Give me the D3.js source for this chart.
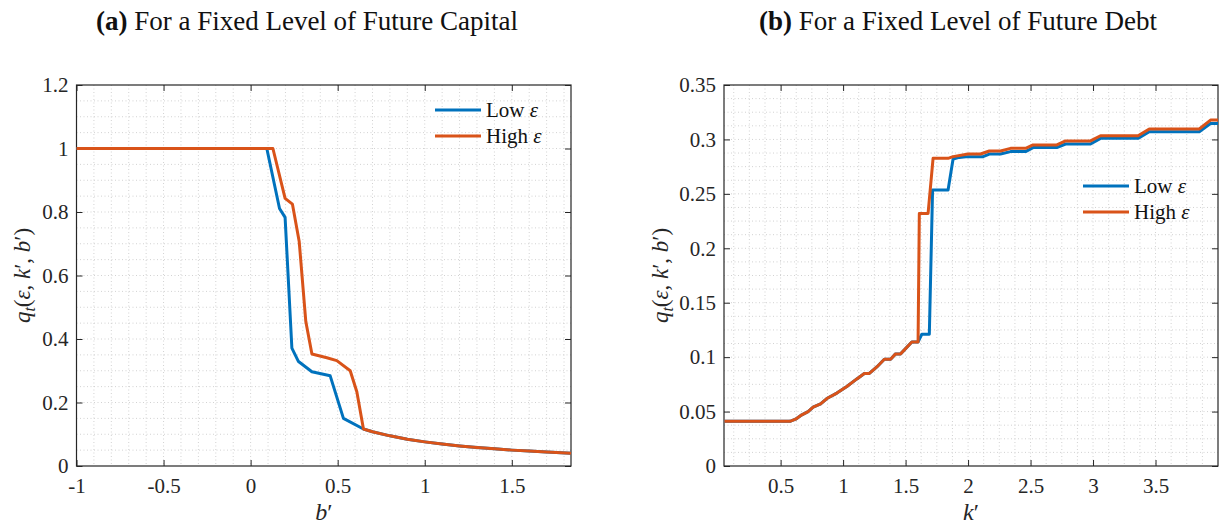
<!DOCTYPE html>
<html>
<head>
<meta charset="utf-8">
<script src="https://cdn.jsdelivr.net/npm/d3@7"></script>
<style>
  body { margin: 0; background: #fff; }
  svg { display: block; }
  svg text { font-family: 'Liberation Serif', 'DejaVu Serif', serif; }
</style>
</head>
<body>
<script>
// panel (a): price schedule over future debt b'
var bLow  = [-1, 0.093, 0.166, 0.198, 0.237, 0.275, 0.352, 0.457, 0.533, 0.648, 0.7, 0.8, 0.9, 1.0, 1.1, 1.2, 1.3, 1.4, 1.5, 1.6, 1.7, 1.84];
var qLowA = [1, 1, 0.811, 0.783, 0.371, 0.329, 0.297, 0.284, 0.150, 0.1165, 0.108, 0.095, 0.084, 0.076, 0.069, 0.063, 0.058, 0.054, 0.050, 0.047, 0.044, 0.040];
var bHigh = [-1, 0.128, 0.198, 0.240, 0.279, 0.317, 0.352, 0.438, 0.495, 0.572, 0.610, 0.648, 0.7, 0.8, 0.9, 1.0, 1.1, 1.2, 1.3, 1.4, 1.5, 1.6, 1.7, 1.84];
var qHighA = [1, 1, 0.843, 0.825, 0.707, 0.455, 0.353, 0.341, 0.332, 0.300, 0.234, 0.1165, 0.108, 0.095, 0.084, 0.076, 0.069, 0.063, 0.058, 0.054, 0.050, 0.047, 0.044, 0.040];

// panel (b): price schedule over future capital k'
var kLow  = [0.05, 0.575, 0.62, 0.67, 0.72, 0.76, 0.82, 0.87, 0.95, 1.03, 1.11, 1.17, 1.21, 1.27, 1.33, 1.38, 1.42, 1.46, 1.55, 1.60, 1.63, 1.69, 1.716, 1.84, 1.88, 1.93, 2.0, 2.12, 2.17, 2.26, 2.34, 2.46, 2.52, 2.71, 2.78, 2.98, 3.06, 3.36, 3.45, 3.85, 3.94, 4.0];
var qLowB = [0.041, 0.041, 0.043, 0.047, 0.050, 0.054, 0.057, 0.062, 0.067, 0.073, 0.080, 0.085, 0.085, 0.091, 0.098, 0.098, 0.103, 0.103, 0.114, 0.114, 0.121, 0.121, 0.2535, 0.2535, 0.282, 0.2835, 0.2842, 0.2842, 0.2866, 0.2866, 0.2888, 0.2888, 0.2925, 0.2925, 0.2958, 0.2958, 0.301, 0.301, 0.307, 0.307, 0.3147, 0.3147];
var kHigh = [0.05, 0.575, 0.62, 0.67, 0.72, 0.76, 0.82, 0.87, 0.95, 1.03, 1.11, 1.17, 1.21, 1.27, 1.33, 1.38, 1.42, 1.46, 1.55, 1.60, 1.61, 1.68, 1.72, 1.84, 1.88, 2.0, 2.1, 2.17, 2.26, 2.34, 2.46, 2.52, 2.71, 2.78, 2.98, 3.06, 3.36, 3.45, 3.85, 3.94, 4.0];
var qHighB = [0.041, 0.041, 0.043, 0.047, 0.050, 0.054, 0.057, 0.062, 0.067, 0.073, 0.080, 0.085, 0.085, 0.091, 0.098, 0.098, 0.103, 0.103, 0.114, 0.114, 0.232, 0.232, 0.2826, 0.2826, 0.2842, 0.2866, 0.2866, 0.2894, 0.2894, 0.2918, 0.2918, 0.2949, 0.2949, 0.2986, 0.2986, 0.3034, 0.3034, 0.3096, 0.3096, 0.3178, 0.3178];

var ticksXA = [-1, -0.5, 0, 0.5, 1, 1.5];
var ticksYA = [0, 0.2, 0.4, 0.6, 0.8, 1, 1.2];
var ticksXB = [0.5, 1, 1.5, 2, 2.5, 3, 3.5];
var ticksYB = [0, 0.05, 0.1, 0.15, 0.2, 0.25, 0.3, 0.35];

var seriesNames = ["Low \u03b5", "High \u03b5"];
var colors = ["#0072BD", "#D95319"];
var serif = "'Liberation Serif', 'DejaVu Serif', serif";

var svg = d3.select("body").append("svg")
    .attr("width", 1227).attr("height", 525);

function fmt(v) { return v === 0 ? "0" : String(+v.toFixed(2)); }

function panel(o) {
  var x = d3.scaleLinear().domain(o.xd).range([o.left, o.right]);
  var y = d3.scaleLinear().domain(o.yd).range([o.bottom, o.top]);
  var g = svg.append("g");

  // dotted grid at minor spacing
  var xm = d3.range(o.xminorStart, o.xd[1], o.xminor).filter(function (v) { return v > o.xd[0] + 1e-9; });
  var ym = d3.range(o.yd[0] + o.yminor, o.yd[1] - 1e-9, o.yminor);
  g.selectAll(".gx").data(xm).enter().append("line")
    .attr("x1", function (d) { return x(d); }).attr("x2", function (d) { return x(d); })
    .attr("y1", o.top).attr("y2", o.bottom)
    .attr("stroke", "#d2d2d2").attr("stroke-width", 1).attr("stroke-dasharray", "1,2.5");
  g.selectAll(".gy").data(ym).enter().append("line")
    .attr("y1", function (d) { return y(d); }).attr("y2", function (d) { return y(d); })
    .attr("x1", o.left).attr("x2", o.right)
    .attr("stroke", "#d2d2d2").attr("stroke-width", 1).attr("stroke-dasharray", "1,2.5");

  // axes with inward ticks on all sides
  g.append("g").attr("transform", "translate(0," + o.bottom + ")")
    .call(d3.axisBottom(x).tickValues(o.xt).tickFormat(fmt).tickSizeInner(-6).tickSizeOuter(0).tickPadding(12));
  g.append("g").attr("transform", "translate(" + o.left + ",0)")
    .call(d3.axisLeft(y).tickValues(o.yt).tickFormat(fmt).tickSizeInner(-6).tickSizeOuter(0).tickPadding(8));
  g.append("g").attr("transform", "translate(0," + o.top + ")")
    .call(d3.axisTop(x).tickValues(o.xt).tickFormat("").tickSizeInner(-6).tickSizeOuter(0));
  g.append("g").attr("transform", "translate(" + o.right + ",0)")
    .call(d3.axisRight(y).tickValues(o.yt).tickFormat("").tickSizeInner(-6).tickSizeOuter(0));
  g.selectAll(".domain").remove();
  g.selectAll("g").attr("font-family", null);
  g.selectAll(".tick line").attr("stroke", "#262626");
  g.selectAll(".tick text").style("font-family", serif).attr("font-size", 21).attr("fill", "#262626");
  g.append("rect").attr("x", o.left).attr("y", o.top)
    .attr("width", o.right - o.left).attr("height", o.bottom - o.top)
    .attr("fill", "none").attr("stroke", "#262626").attr("stroke-width", 1.2);

  // curves
  var line = d3.line().x(function (d) { return x(d[0]); }).y(function (d) { return y(d[1]); });
  o.series.forEach(function (s, i) {
    var pts = d3.zip(s[0], s[1]);
    g.append("path").datum(pts).attr("d", line)
      .attr("fill", "none").attr("stroke", colors[i]).attr("stroke-width", 3)
      .attr("stroke-linejoin", "round");
  });

  // legend
  seriesNames.forEach(function (n, i) {
    var ly = o.legY + i * 26;
    g.append("line").attr("x1", o.legX).attr("x2", o.legX + 46)
      .attr("y1", ly).attr("y2", ly).attr("stroke", colors[i]).attr("stroke-width", 3);
    var t = g.append("text").attr("x", o.legX + 51).attr("y", ly + 7)
      .style("font-family", serif).attr("font-size", 21).attr("fill", "#111");
    t.append("tspan").text(n.split(" ")[0] + " ");
    t.append("tspan").attr("font-style", "italic").text("\u03b5");
  });

  // title
  var tt = svg.append("text").attr("x", o.titleX).attr("y", 30).attr("text-anchor", "middle")
    .style("font-family", serif).attr("font-size", 27).attr("fill", "#111");
  tt.append("tspan").attr("font-weight", "bold").text(o.tag + " ");
  tt.append("tspan").text(o.title);

  // x label
  var xl = svg.append("text").attr("x", (o.left + o.right) / 2).attr("y", 520).attr("text-anchor", "middle")
    .style("font-family", serif).attr("font-size", 24).attr("font-style", "italic").attr("fill", "#262626");
  xl.append("tspan").text(o.xvar);
  xl.append("tspan").attr("font-style", "normal").text("\u2032");

  // y label q_t(eps, k', b')
  var yl = svg.append("text").attr("transform", "translate(" + o.ylabX + "," + (o.top + o.bottom) / 2 + ") rotate(-90)")
    .attr("text-anchor", "middle").style("font-family", serif).attr("font-size", 23).attr("fill", "#262626");
  yl.append("tspan").attr("font-style", "italic").text("q");
  yl.append("tspan").attr("font-style", "italic").attr("font-size", 16).attr("dy", 5).text("t");
  yl.append("tspan").attr("dy", -5).text("(");
  yl.append("tspan").attr("font-style", "italic").text("\u03b5");
  yl.append("tspan").text(", ");
  yl.append("tspan").attr("font-style", "italic").text("k");
  yl.append("tspan").text("\u2032, ");
  yl.append("tspan").attr("font-style", "italic").text("b");
  yl.append("tspan").text("\u2032)");
}

panel({
  xd: [-1, 1.84], yd: [0, 1.2], left: 76.5, right: 571, top: 85, bottom: 466,
  xt: ticksXA, yt: ticksYA, xminor: 0.1, xminorStart: -0.9, yminor: 0.05,
  series: [[bLow, qLowA], [bHigh, qHighA]],
  legX: 435, legY: 110, tag: "(a)", title: "For a Fixed Level of Future Capital", titleX: 307,
  xvar: "b", ylabX: 30
});

panel({
  xd: [0.047, 4], yd: [0, 0.35], left: 724, right: 1218, top: 85, bottom: 466,
  xt: ticksXB, yt: ticksYB, xminor: 0.125, xminorStart: 0.125, yminor: 0.0125,
  series: [[kLow, qLowB], [kHigh, qHighB]],
  legX: 1083, legY: 186, tag: "(b)", title: "For a Fixed Level of Future Debt", titleX: 958,
  xvar: "k", ylabX: 668
});
</script>
</body>
</html>
